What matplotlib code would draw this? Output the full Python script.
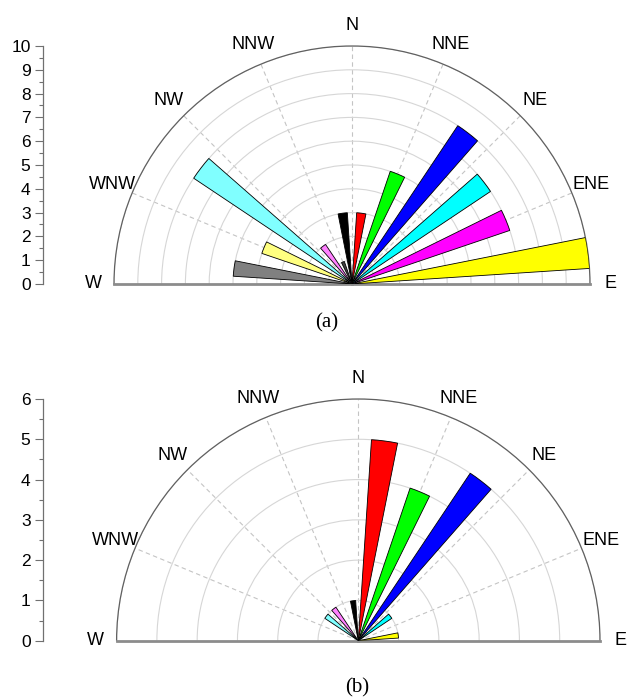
import numpy as np
import matplotlib
matplotlib.use("Agg")
import matplotlib.pyplot as plt
from matplotlib.ticker import MultipleLocator

plt.rcParams['font.family'] = ['Liberation Sans', 'DejaVu Sans']

# bar centre directions (deg, counter-clockwise from east), 15 deg sectors
angles = [7.5, 22.5, 37.5, 52.5, 67.5, 82.5, 97.5, 112.5, 127.5, 142.5, 157.5, 172.5]
colors = ['#FFFF00', '#FF00FF', '#00FFFF', '#0000FF', '#00FF00', '#FF0000',
          '#000000', '#404040', '#FF80FF', '#80FFFF', '#FFFF80', '#808080']
values_a = [10, 7, 7, 8, 5, 3, 3, 1, 2, 8, 4, 5]
values_b = [1, 0, 1, 5, 4, 5, 1, 0, 1, 1, 0, 0]

dir_angles = [0, 22.5, 45, 67.5, 90, 112.5, 135, 157.5, 180]
dir_labels = ['E', 'ENE', 'NE', 'NNE', 'N', 'NNW', 'NW', 'WNW', 'W']

W, H = 627, 700
fig = plt.figure(figsize=(W / 100, H / 100), dpi=100)


def rose(cx, cy, R, rmax, vals, caption, cap_xy):
    # cx, cy, R in pixels (from top-left); the half disc sits in the middle of a square box
    ax = fig.add_axes([(cx - R) / W, (H - (cy + R / 2)) / H, 2 * R / W, 2 * R / H],
                      projection='polar')
    ax.set_thetamin(0)
    ax.set_thetamax(180)
    ax.set_ylim(0, rmax)
    ax.set_axisbelow(True)
    ax.bar(np.deg2rad(angles), vals, width=np.deg2rad(7.5), bottom=0,
           color=colors, edgecolor='black', linewidth=0.6, zorder=3)

    ax.set_yticks(np.arange(1, rmax + 1))
    ax.set_yticklabels([])
    ax.set_xticks(np.deg2rad(dir_angles))
    ax.set_xticklabels(dir_labels)
    ax.set_xticks(np.deg2rad(np.arange(11.25, 180, 22.5)), minor=True)
    ax.xaxis.grid(True, which='major', color='#c4c4c4', linestyle=(0, (4, 3)), linewidth=0.8)
    ax.yaxis.grid(True, color='#d6d6d6', linestyle='-', linewidth=0.8)
    ax.tick_params(axis='x', which='major', direction='in', length=6, width=0.8,
                   color='#606060', pad=8, labelsize=13)
    ax.tick_params(axis='x', which='minor', direction='in', length=4, width=0.8,
                   color='#606060')
    ax.tick_params(axis='y', length=0)
    ax.spines['polar'].set_color('#606060')
    ax.spines['polar'].set_linewidth(0.9)
    for s in ('start', 'end'):
        ax.spines[s].set_color('#8c8c8c')
        ax.spines[s].set_linewidth(2)
    ax.spines['inner'].set_visible(False)

    # separate vertical scale on the left
    lax = fig.add_axes([43 / W, (H - cy) / H, 0.0001, R / H])
    lax.set_ylim(0, rmax)
    lax.patch.set_visible(False)
    for s in ('top', 'right', 'bottom'):
        lax.spines[s].set_visible(False)
    lax.spines['left'].set_color('#707070')
    lax.spines['left'].set_linewidth(0.9)
    lax.set_xticks([])
    lax.yaxis.set_major_locator(MultipleLocator(1))
    lax.yaxis.set_minor_locator(MultipleLocator(0.5))
    lax.tick_params(axis='y', which='major', length=6, width=0.8, color='#707070',
                    labelsize=12.5, pad=3)
    lax.tick_params(axis='y', which='minor', length=3, width=0.8, color='#707070')

    fig.text(cap_xy[0] / W, 1 - cap_xy[1] / H, caption, ha='center', va='center',
             fontsize=15, family='Liberation Serif')


rose(352, 284, 238, 10, values_a, '(a)', (327, 323))
rose(358.3, 640.7, 241.7, 6, values_b, '(b)', (357, 688))

fig.savefig('out.png', dpi=100)
